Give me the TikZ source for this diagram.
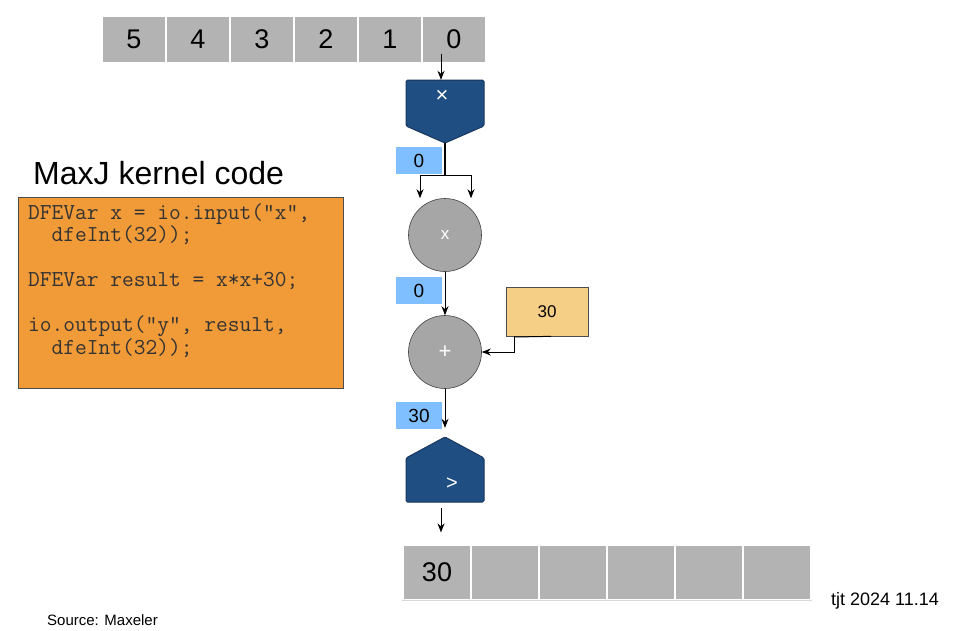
\documentclass[tikz,border=0pt]{standalone}
\usepackage{fontspec}
\setmainfont{Liberation Sans}
\usetikzlibrary{arrows.meta}
\definecolor{cellgray}{HTML}{B3B3B3}
\definecolor{opgray}{HTML}{A6A6A6}
\definecolor{streamblue}{HTML}{1F4E82}
\definecolor{streamedge}{HTML}{17375E}
\definecolor{tagblue}{HTML}{80BFFF}
\definecolor{constfill}{HTML}{F5CF86}
\definecolor{codefill}{HTML}{F09A38}
\definecolor{codetext}{HTML}{333333}
\tikzset{
  cell/.style={fill=cellgray, draw=white, line width=1.2pt, minimum height=47, inner sep=0pt,
    font=\fontsize{27}{27}\selectfont, text=black},
  outcell/.style={fill=cellgray, draw=white, line width=1.2pt, minimum width=68, minimum height=55,
    inner sep=0pt, font=\fontsize{27}{27}\selectfont, text=black},
  opnode/.style={circle, fill=opgray, draw=black!75, line width=0.6pt, minimum size=73, inner sep=0pt,
    text=white, font=\fontsize{17}{17}\selectfont},
  tag/.style={fill=tagblue, minimum width=46, minimum height=27, inner sep=0pt,
    font=\fontsize{19}{19}\selectfont, text=black},
  flow/.style={draw=black, line width=1pt, -{Stealth[length=9pt,width=7pt]}},
  wire/.style={draw=black, line width=1pt},
  stream/.style={fill=streamblue, draw=streamedge, line width=1pt, rounded corners=1.5pt},
}
\begin{document}
\begin{tikzpicture}[x=1pt, y=-1pt]
  \useasboundingbox (0,0) rectangle (956,630);
  \fill[white] (0,0) rectangle (956,630);

  % input stream x
  \foreach \v [count=\i from 0] in {5,4,3,2,1,0}
    \node[cell, minimum width=64] (in\i) at (134+64*\i, 39.5) {\v};

  % input pentagon (pointing down)
  \path[stream] (406,80) -- (484,80) -- (484,126) -- (445,143) -- (406,126) -- cycle;
  \node[minimum width=78, minimum height=63, inner sep=0pt] (inx) at (445,111.5) {};
  \node[text=white, font=\fontsize{22}{22}\selectfont] (inxlab) at (442,96) {×};

  % multiplier
  \node[opnode] (mul) at (445,235) {x};
  % adder
  \node[opnode] (add) at (445,352) {\fontsize{22}{22}\selectfont +};

  % constant
  \node[fill=constfill, draw=black!70, line width=0.7pt, minimum width=82, minimum height=49, inner sep=0pt,
        font=\fontsize{17}{17}\selectfont] (const) at (547,311.5) {30};

  % output pentagon (pointing up)
  \path[stream] (445,437) -- (484,458) -- (484,502) -- (406,502) -- (406,458) -- cycle;
  \node[minimum width=78, minimum height=65, inner sep=0pt] (outy) at (445,469.5) {};
  \node[text=white, font=\fontsize{20}{20}\selectfont] (outylab) at (452,484) {>};

  % output stream y
  \foreach \v [count=\i from 0] in {30,,,,,}
    \node[outcell] (out\i) at (437+68*\i, 572.5) {\v};
  \draw[black!15, line width=0.8pt] (out0.south west) -- (out5.south east);

  % value tags
  \node[tag] (t1) at (419,160.5) {0};
  \node[tag] (t2) at (419,290.5) {0};
  \node[tag] (t3) at (419,415.5) {30};

  % connectors
  \coordinate (split) at (445,175);
  \draw[flow] ([xshift=-13pt, yshift=10pt]in5.south) -- ([xshift=-4pt]inx.north);
  \draw[wire, line width=1.8pt] (inx.south) -- (split);
  \draw[flow] (split) -| ([xshift=-25pt]mul.north);
  \draw[flow] (split) -| ([xshift=26pt]mul.north);
  \draw[flow] (mul.south) -- (add.north);
  \coordinate (ctap) at (514,337);
  \draw[wire] ([xshift=4pt]const.south) -- (ctap);
  \draw[flow] (ctap) |- (add.east);
  \draw[flow] (add.south) -- ([yshift=9pt]outy.north);
  \draw[flow] ([xshift=-4pt, yshift=-6pt]outy.south) -- ([xshift=4pt, yshift=12pt]out0.north);

  % kernel code
  \node[anchor=south west, font=\fontsize{32}{32}\selectfont, inner sep=0pt] (title) at (33,185) {MaxJ kernel code};
  \node[fill=codefill, draw=black!70, line width=0.8pt, minimum width=325, minimum height=191,
        inner sep=0pt] (code) at (180.5,292.5) {};
  \node[anchor=north west, inner sep=0pt, align=left, text=codetext,
        font=\ttfamily\fontsize{22.8}{22.5}\selectfont] (codetxt) at (28,203)
    {DFEVar x = io.input("x",\\
     \ \ dfeInt(32));\\[22.5pt]
     DFEVar result = x*x+30;\\[22.5pt]
     io.output("y", result,\\
     \ \ dfeInt(32));};

  % footers
  \node[anchor=west, inner sep=0pt, font=\fontsize{15}{15}\selectfont] (src) at (47,620) {Source: Maxeler};
  \node[anchor=west, inner sep=0pt, font=\fontsize{18}{18}\selectfont] (stamp) at (831,601) {tjt 2024 11.14};
\end{tikzpicture}
\end{document}
